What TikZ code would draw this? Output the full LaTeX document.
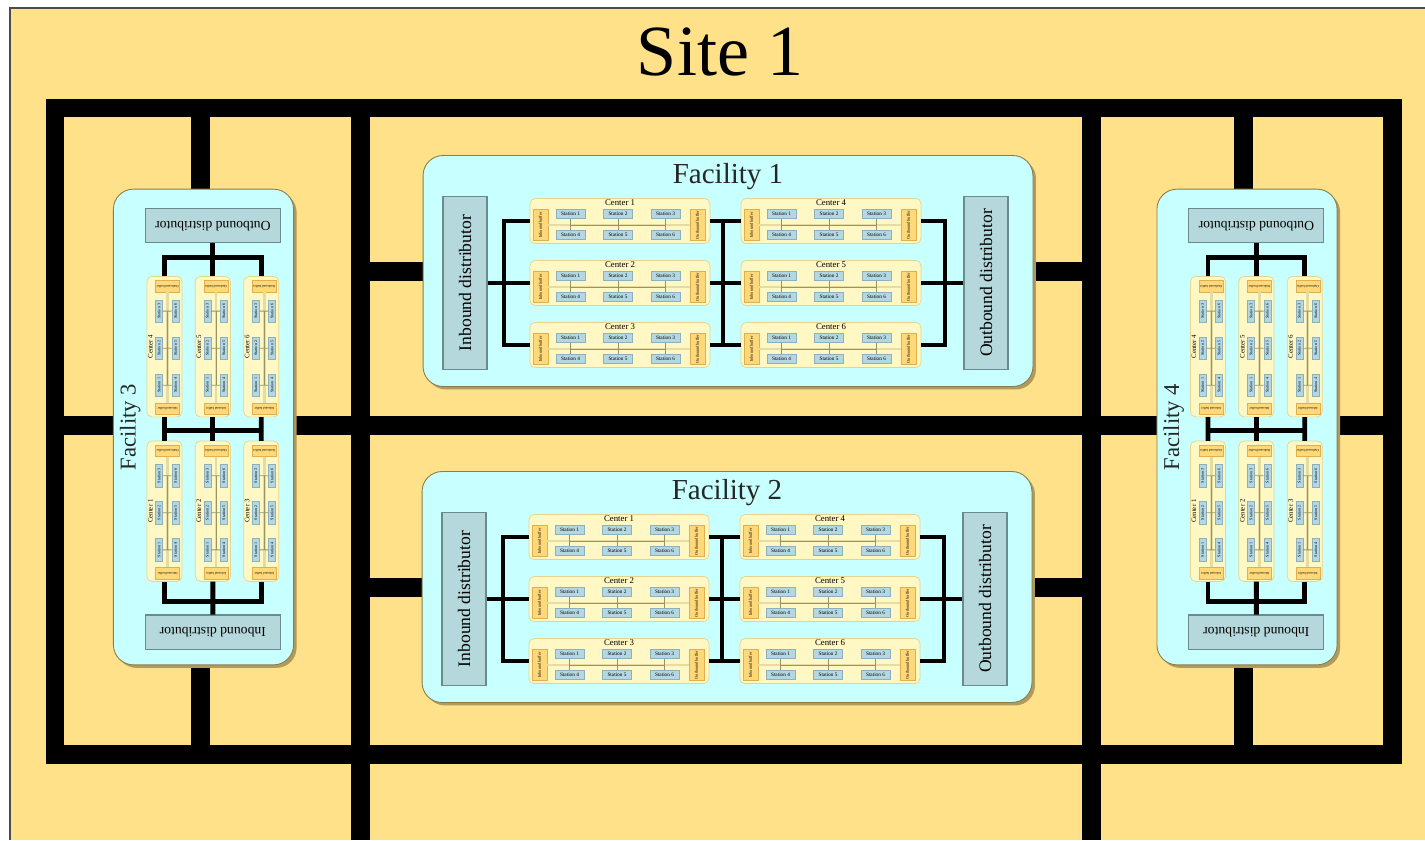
\documentclass[tikz,border=0pt]{standalone}
\usepackage{fontspec}
\setmainfont{Liberation Serif}
\usepackage{xcolor}
\usetikzlibrary{positioning,shadows,calc}

\pgfdeclarelayer{site}
\pgfdeclarelayer{roads}
\pgfsetlayers{site,roads,main}

\definecolor{siteyellow}{HTML}{FFE189}
\definecolor{facfill}{HTML}{C8FFFF}
\definecolor{facline}{HTML}{8C7C48}
\definecolor{facshadow}{HTML}{B09A5C}
\definecolor{distfill}{HTML}{B4D8DC}
\definecolor{distline}{HTML}{6A8A8E}
\definecolor{cenfill}{HTML}{FFF8C4}
\definecolor{cenline}{HTML}{E6D48C}
\definecolor{buffill}{HTML}{FFD87A}
\definecolor{bufline}{HTML}{E0B04C}
\definecolor{stafill}{HTML}{B4D8E2}
\definecolor{staline}{HTML}{8CB0BC}
\definecolor{feedcol}{HTML}{E4DCA2}
\definecolor{buscol}{HTML}{9C9460}

\tikzset{
    facbox/.style={rectangle, draw=facline, line width=0.5pt, fill=facfill,
        rounded corners=0.4cm, minimum width=12.2cm, minimum height=4.62cm,
        drop shadow={shadow xshift=0.06cm, shadow yshift=-0.06cm,
            fill=facshadow, opacity=1}},
    factitle/.style={inner sep=0pt, text=black!85,
        font=\fontsize{16.5}{18}\selectfont},
    distributor/.style={rectangle, draw=distline, line width=0.6pt,
        fill=distfill, rotate=90, minimum width=3.46cm, minimum height=0.88cm,
        inner sep=0pt, font=\fontsize{10}{11}\selectfont},
    centerbox/.style={rectangle, draw=cenline, line width=0.4pt, fill=cenfill,
        rounded corners=0.1cm, minimum width=3.6cm, minimum height=0.9cm},
    centertitle/.style={inner sep=0pt, font=\fontsize{5}{5}\selectfont},
    buffer/.style={rectangle, draw=bufline, line width=0.3pt, fill=buffill,
        rotate=90, minimum width=0.62cm, minimum height=0.3cm, inner sep=0pt,
        font=\fontsize{2.4}{2.4}\selectfont},
    station/.style={rectangle, draw=staline, line width=0.3pt, fill=stafill,
        minimum width=0.58cm, minimum height=0.18cm, inner sep=0pt,
        font=\fontsize{3}{3}\selectfont},
    feed/.style={draw=feedcol, line width=1.6pt},
    bus/.style={draw=buscol, line width=0.5pt},
    link/.style={draw=black, line width=2.8pt, line join=miter},
    road/.style={draw=black, line width=0.38cm, line join=miter},
    siteborder/.style={draw=black!70, line width=1.2pt},
    sitetitle/.style={inner sep=0pt, font=\fontsize{41}{41}\selectfont},
}

% one facility: two distributors and six centers (coordinates in px units)
\tikzset{
    pics/facility/.style={code={
        \node[facbox] (-box) at (0,0) {};
        \node[factitle] (-title) at (0,94) {#1};
        \node[distributor] (-in) at (-263,-12) {Inbound distributor};
        \node[distributor] (-out) at (258,-12) {Outbound distributor};
        \foreach \base/\cx in {0/-108, 3/103}
          \foreach \row/\cy in {1/50, 2/-12, 3/-74} {
            \pgfmathtruncatemacro\cn{\base+\row}
            \begin{scope}[shift={(\cx,\cy)}]
              \node[centerbox] (-c\cn) at (0,0) {};
              \node[centertitle] (-c\cn-t) at (0,18) {Center \cn};
              \node[buffer] (-c\cn-in) at (-79.5,-4) {Inbound buffer};
              \node[buffer] (-c\cn-out) at (77.5,-4) {Outbound buffer};
              \draw[feed] (-c\cn-in) -- (-c\cn-out);
              \foreach \k/\sx in {1/-49.5, 2/-2, 3/45.5} {
                \pgfmathtruncatemacro\kk{\k+3}
                \node[station] (-c\cn-s\k) at (\sx,7) {Station \k};
                \node[station] (-c\cn-s\kk) at (\sx,-14) {Station \kk};
                \coordinate (-c\cn-j\k) at (\sx,-4);
                \draw[bus] (-c\cn-s\k) -- (-c\cn-s\kk);
              }
              \draw[bus] (-c\cn-j1) -- (-c\cn-j3);
            \end{scope}
          }
        % ── Links between distributors and centers ──
        \coordinate (-jl) at (-224,0);
        \coordinate (-jm) at (-5,0);
        \coordinate (-jr) at (217,0);
        \draw[link] (-in) -- (-c2);
        \draw[link] (-c1.west) -| (-jl) |- (-c3.west);
        \foreach \a/\b in {1/4, 2/5, 3/6}
            \draw[link] (-c\a) -- (-c\b);
        \draw[link] (-c1.east -| -jm) -- (-c3.east -| -jm);
        \draw[link] (-c4.east) -| (-jr) |- (-c6.east);
        \draw[link] (-c5) -- (-out);
    }},
}

\begin{document}
\begin{tikzpicture}[x=0.02cm, y=0.02cm]
\useasboundingbox (0,0) rectangle (1425,840);

% ── Site grounds ──
\begin{pgfonlayer}{site}
    \fill[siteyellow] (10,0) rectangle (1425,832);
    \draw[siteborder] (10,0) |- (1425,832);
\end{pgfonlayer}
\node[sitetitle] (site) at (720,788) {Site 1};

% ── Facilities ──
\pic (f1) at (728,569) {facility={Facility 1}};
\pic (f2) at (727,253) {facility={Facility 2}};
\begin{scope}[shift={(203.5,413)}, rotate=90, scale=0.78, transform shape]
    \pic (f3) {facility={Facility 3}};
\end{scope}
\begin{scope}[shift={(1247,413)}, rotate=90, scale=0.78, transform shape]
    \pic (f4) {facility={Facility 4}};
\end{scope}

% ── Road grid ──
\coordinate (nw) at (55,732);
\coordinate (se) at (1392,86);
\coordinate (v1) at (200,732);
\coordinate (v2) at (360,732);
\coordinate (v3) at (1091,732);
\coordinate (v4) at (1243,732);
\coordinate (v2end) at (360,0);
\coordinate (v3end) at (1091,0);
\coordinate (wm) at (55,415);
\coordinate (em) at (1392,415);

\begin{pgfonlayer}{roads}
    \draw[road] (nw) rectangle (se);
    \draw[road] (v1) -- (v1 |- f3-box.east);
    \draw[road] (v1 |- f3-box.west) -- (v1 |- se);
    \draw[road] (v2) -- (v2end);
    \draw[road] (v3) -- (v3end);
    \draw[road] (v4) -- (v4 |- f4-box.east);
    \draw[road] (v4 |- f4-box.west) -- (v4 |- se);
    \draw[road] (wm) -- (wm -| f3-box.north);
    \draw[road] (wm -| f3-box.south) -- (wm -| f4-box.north);
    \draw[road] (wm -| f4-box.south) -- (em);
    \draw[road] (f1-box.west -| v2) -- (f1-box.west);
    \draw[road] (f1-box.east) -- (f1-box.east -| v3);
    \draw[road] (f2-box.west -| v2) -- (f2-box.west);
    \draw[road] (f2-box.east) -- (f2-box.east -| v3);
\end{pgfonlayer}

\end{tikzpicture}
\end{document}
